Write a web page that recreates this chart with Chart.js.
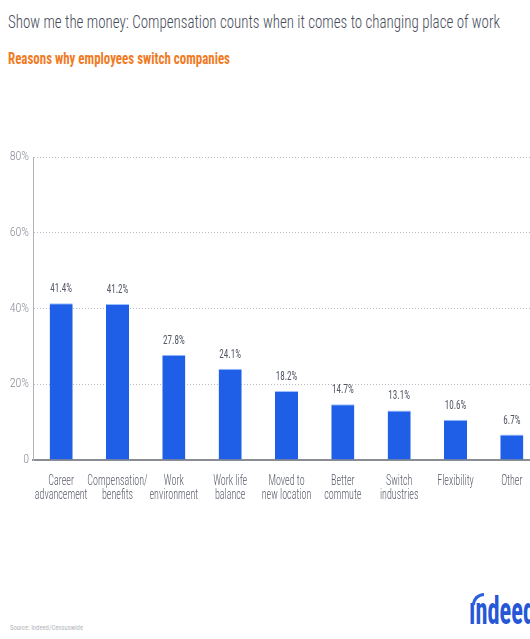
<!DOCTYPE html>
<html>
<head>
<meta charset="utf-8">
<script src="https://cdn.jsdelivr.net/npm/chart.js@4"></script>
<style>
  html, body { margin: 0; padding: 0; background: #fff; overflow: hidden; width: 530px; height: 639px; }
  .fit { position: absolute; white-space: nowrap; transform-origin: 0 0; font-family: "Roboto Condensed", sans-serif; }
  #title { left: 8px; top: 10px; font-size: 19px; font-weight: 300; color: #474c5b; }
  #subtitle { left: 8px; top: 49px; font-size: 16px; font-weight: bold; color: #f07b24; }
  #wrap { position: absolute; left: 0; top: 140px; width: 540px; height: 380px; }
  #source { left: 10px; top: 623px; font-size: 8px; color: #b4b6bb; }
  #logo { left: 469px; top: 592px; font-size: 38px; font-weight: bold; color: #2557d6; line-height: 38px; }
  #swoosh { position: absolute; left: 472px; top: 593px; width: 12px; height: 12px; border-top: 3px solid #2a62e0; border-left: 3px solid #2a62e0; border-top-left-radius: 100%; box-sizing: border-box; }
</style>
</head>
<body>
<div id="title" class="fit" data-w="492">Show me the money: Compensation counts when it comes to changing place of work</div>
<div id="subtitle" class="fit" data-w="222">Reasons why employees switch companies</div>
<div id="wrap"><canvas id="reasons-chart"></canvas></div>
<div id="source" class="fit" data-w="73">Source: Indeed/Censuswide</div>
<div id="logo" class="fit" data-w="66">ındeed</div>
<div id="swoosh"></div>
<script>
var categories = [
  ["Career", "advancement"],
  ["Compensation/", "benefits"],
  ["Work", "environment"],
  ["Work life", "balance"],
  ["Moved to", "new location"],
  ["Better", "commute"],
  ["Switch", "industries"],
  ["Flexibility"],
  ["Other"]
];
var shares = [41.4, 41.2, 27.8, 24.1, 18.2, 14.7, 13.1, 10.6, 6.7];
var yTicks = [0, 20, 40, 60, 80];

var labelFont = "'Roboto Condensed', sans-serif";

// squeeze the header texts to the widths of the original
document.querySelectorAll('.fit').forEach(function(el) {
  var w = el.getBoundingClientRect().width;
  el.style.transform = 'scaleX(' + (el.dataset.w / w) + ')';
});

// narrow text, like the condensed face of the original
function squeezedText(ctx, text, x, y, squeeze) {
  ctx.save();
  ctx.translate(x, y);
  ctx.scale(squeeze, 1);
  ctx.fillText(text, 0, 0);
  ctx.restore();
}

// value above each bar and two-line category names under the axis
var barLabels = {
  id: 'barLabels',
  afterDatasetsDraw: function(chart) {
    var ctx = chart.ctx;
    var meta = chart.getDatasetMeta(0);
    var xScale = chart.scales.x;
    ctx.save();
    ctx.textAlign = 'center';
    ctx.textBaseline = 'alphabetic';
    ctx.font = '13px ' + labelFont;
    ctx.fillStyle = '#545966';
    meta.data.forEach(function(bar, i) {
      squeezedText(ctx, shares[i].toFixed(1) + '%', bar.x, bar.y - 11, 0.7);
    });
    ctx.font = '300 14px ' + labelFont;
    ctx.fillStyle = '#575c68';
    categories.forEach(function(lines, i) {
      var x = xScale.getPixelForTick(i);
      lines.forEach(function(line, j) {
        squeezedText(ctx, line, x, xScale.top + 25 + j * 14, 0.72);
      });
    });
    ctx.restore();
  }
};

var ctx = document.getElementById('reasons-chart').getContext('2d');
var chart = new Chart(ctx, {
  type: 'bar',
  data: {
    labels: categories,
    datasets: [{
      data: shares,
      backgroundColor: '#1f5fe8',
      borderColor: '#9fc0ff',
      borderWidth: { top: 1, left: 0, right: 0, bottom: 0 },
      borderSkipped: 'bottom',
      barPercentage: 0.41,
      categoryPercentage: 1.0
    }]
  },
  options: {
    responsive: true,
    maintainAspectRatio: false,
    animation: false,
    layout: { padding: { top: 17, right: 0, left: 0, bottom: 0 } },
    plugins: {
      legend: { display: false },
      tooltip: { enabled: false }
    },
    scales: {
      x: {
        grid: { display: false },
        border: { color: '#8a8d94', width: 2 },
        ticks: { display: false },
        afterFit: function(scale) { scale.height = 60; }
      },
      y: {
        min: 0,
        max: 80,
        afterBuildTicks: function(scale) {
          scale.ticks = yTicks.map(function(v) { return { value: v }; });
        },
        grid: {
          color: function(c) { return c.tick.value === 0 ? 'rgba(0,0,0,0)' : '#b8bcc4'; },
          lineWidth: 1,
          drawTicks: false
        },
        border: { color: '#b0b3ba', width: 1, dash: [1, 2] },
        ticks: {
          color: '#8a8e98',
          font: { family: labelFont, size: 12, weight: '300' },
          padding: 4,
          callback: function(v) { return v === 0 ? '0' : v + '%'; }
        },
        afterFit: function(scale) { scale.width = 33; }
      }
    }
  },
  plugins: [barLabels]
});
</script>
</body>
</html>
